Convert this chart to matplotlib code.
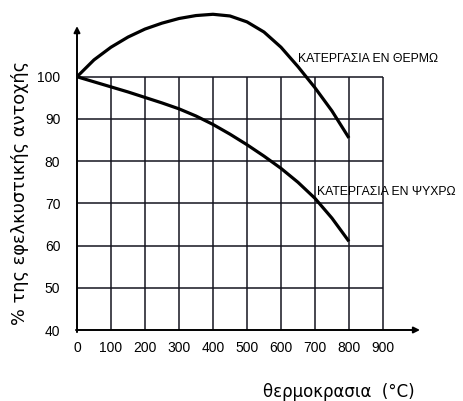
import matplotlib
matplotlib.use("Agg")
import matplotlib.pyplot as plt

# θερμοκρασία (°C)
temp = [0, 50, 100, 150, 200, 250, 300, 350, 400, 450, 500, 550, 600, 650, 700, 750, 800]
# κατεργασία εν θερμώ
hot = [100, 104, 107, 109.4, 111.3, 112.7, 113.8, 114.5, 114.8, 114.4, 113.0, 110.6,
       107.0, 102.4, 97.4, 91.9, 85.5]
# κατεργασία εν ψυχρώ
cold = [100, 98.8, 97.6, 96.4, 95.1, 93.8, 92.4, 90.7, 88.7, 86.4, 83.9, 81.2,
        78.3, 75.0, 71.2, 66.5, 61]

xticks = [0, 100, 200, 300, 400, 500, 600, 700, 800, 900]
yticks = [40, 50, 60, 70, 80, 90, 100]

plt.rcParams['font.family'] = ['Liberation Sans', 'DejaVu Sans']

fig = plt.figure(figsize=(4.63, 4.01), dpi=100)
ax = fig.add_axes([77/463, 71/401, 343/463, 325/401])
ax.set_xlim(0, 1009)
ax.set_ylim(40, 117)

# πλέγμα
ink = '#15151f'
ax.vlines(xticks[1:], 40, 100, color=ink, lw=1.1)
ax.hlines(yticks[1:], 0, 900, color=ink, lw=1.1)

# άξονες με βέλη
for s in ax.spines.values():
    s.set_visible(False)
ax.annotate('', xy=(0, 112), xytext=(0, 39.5),
            arrowprops=dict(arrowstyle='-|>', color='black', lw=1.4,
                            mutation_scale=9, shrinkA=0, shrinkB=0))
ax.annotate('', xy=(1009, 40), xytext=(-3, 40),
            arrowprops=dict(arrowstyle='-|>', color='black', lw=1.4,
                            mutation_scale=9, shrinkA=0, shrinkB=0))

ax.plot(temp, hot, color='black', lw=2.3, solid_capstyle='butt')
ax.plot(temp, cold, color='black', lw=2.3, solid_capstyle='butt')

ax.set_xticks(xticks)
ax.set_yticks(yticks)
ax.tick_params(length=0, labelsize=10)
ax.tick_params(axis='x', pad=8)
ax.tick_params(axis='y', pad=12)

ax.text(650, 104.3, 'ΚΑΤΕΡΓΑΣΙΑ ΕΝ ΘΕΡΜΩ', fontsize=8.8, va='center', ha='left')
ax.text(706, 72.7, 'ΚΑΤΕΡΓΑΣΙΑ ΕΝ ΨΥΧΡΩ', fontsize=8.8, va='center', ha='left')

fig.text(20/463, 1 - 193/401, '% της εφελκυστικής αντοχής', rotation=90,
         ha='center', va='center', fontsize=12.8, family='DejaVu Sans')
fig.text(339/463, 1 - 392/401, 'θερμοκρασια  (°C)', ha='center', va='center',
         fontsize=12, family='DejaVu Sans')

fig.savefig('out.png', dpi=100)
